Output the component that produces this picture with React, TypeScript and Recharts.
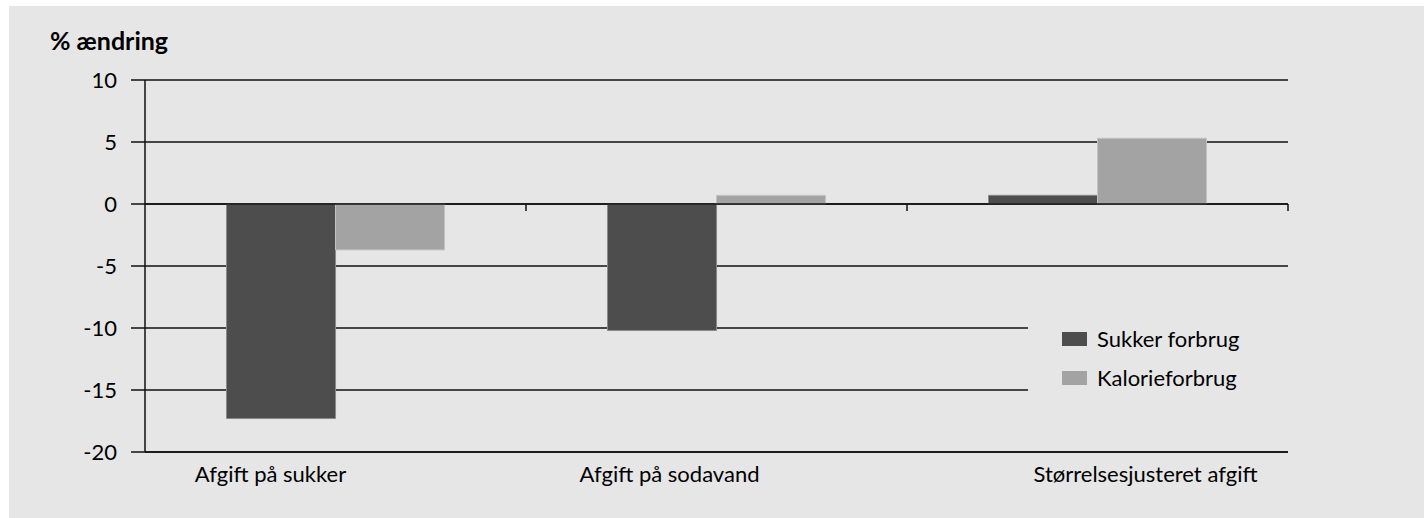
import React from 'react';
import { BarChart, Bar, XAxis, YAxis, CartesianGrid, ReferenceLine, Legend } from 'recharts';

const categories = ['Afgift på sukker', 'Afgift på sodavand', 'Størrelsesjusteret afgift'];
const sukkerForbrug = [-17.3, -10.2, 0.7];
const kalorieForbrug = [-3.7, 0.7, 5.3];
const yTicks = [-20, -15, -10, -5, 0, 5, 10];
const seriesOrder = ['Sukker forbrug', 'Kalorieforbrug'];
const labelOffsets = [-65, -47, 48];

const data = categories.map((name, i) => ({ name, sukker: sukkerForbrug[i], kalorie: kalorieForbrug[i] }));

const FONT = 'Lato, sans-serif';
const FS = 22;
const LINE = '#111111';
const BG = '#e6e6e6';

const XTick = (props: any) => {
  const { x, y, payload, index } = props;
  return (
    <text x={x + (labelOffsets[index] || 0)} y={y} dy="0.71em" textAnchor="middle" fontFamily={FONT} fontSize={FS} fill="#000">
      {payload.value}
    </text>
  );
};

const ZeroLine = (props: any) => {
  const { x1, y1, x2, y2 } = props;
  const n = categories.length;
  const ticks = [];
  for (let i = 1; i <= n; i++) {
    const tx = x1 + ((x2 - x1) * i) / n;
    ticks.push(<line key={i} x1={tx} x2={tx} y1={y1} y2={y1 + 7} stroke={LINE} strokeWidth={1.5} />);
  }
  return (
    <g>
      <line x1={x1} y1={y1} x2={x2} y2={y2} stroke={LINE} strokeWidth={1.5} />
      {ticks}
    </g>
  );
};

const LegendContent = (props: any) => {
  const items = [...(props.payload || [])].sort(
    (a: any, b: any) => seriesOrder.indexOf(a.value) - seriesOrder.indexOf(b.value)
  );
  return (
    <div style={{ width: '100%', height: '100%', background: BG, position: 'relative' }}>
      {items.map((p: any, i: number) => (
        <div key={i} style={{ position: 'absolute', left: 34, top: 47 + i * 39, height: 24, display: 'flex', alignItems: 'center' }}>
          <div style={{ width: 25, height: 14, background: p.color, marginRight: 10 }} />
          <span style={{ fontFamily: FONT, fontSize: FS, color: '#000', lineHeight: '24px' }}>{p.value}</span>
        </div>
      ))}
    </div>
  );
};

export default function App() {
  return (
    <div style={{ position: 'absolute', left: 9, top: 6, width: 1415, height: 512, background: BG }}>
      <svg width={300} height={70} style={{ position: 'absolute', left: 0, top: 0 }}>
        <text x={41} y={44} fontFamily={FONT} fontWeight="bold" fontSize={25} fill="#000">% ændring</text>
      </svg>
      <BarChart
        width={1415}
        height={512}
        data={data}
        margin={{ top: 74, right: 136, bottom: 36, left: 0 }}
        barCategoryGap="21.4%"
        barGap={0}
      >
        <CartesianGrid horizontal vertical={false} stroke={LINE} strokeWidth={1.5} strokeDasharray="" />
        <XAxis
          dataKey="name"
          height={30}
          axisLine={{ stroke: LINE, strokeWidth: 1.5 }}
          tickLine={false}
          tickSize={0}
          tickMargin={14}
          tick={<XTick />}
          interval={0}
        />
        <YAxis
          width={136}
          domain={[-20, 10]}
          ticks={yTicks}
          interval={0}
          axisLine={{ stroke: LINE, strokeWidth: 1.5 }}
          tickLine={{ stroke: LINE, strokeWidth: 1.5 }}
          tickSize={14}
          tickMargin={14}
          tick={{ fontFamily: FONT, fontSize: FS, fill: '#000' }}
        />
        <Bar dataKey="sukker" name="Sukker forbrug" fill="#4d4d4d" stroke="#8a8a8a" strokeWidth={1} isAnimationActive={false} />
        <Bar dataKey="kalorie" name="Kalorieforbrug" fill="#a3a3a3" stroke="#c4c4c4" strokeWidth={1} isAnimationActive={false} />
        <ReferenceLine y={0} shape={ZeroLine} />
        <Legend
          layout="horizontal"
          align="center"
          verticalAlign="middle"
          content={<LegendContent />}
          wrapperStyle={{ position: 'absolute', left: 1019, top: 274, width: 260, height: 140 }}
        />
      </BarChart>
    </div>
  );
}
